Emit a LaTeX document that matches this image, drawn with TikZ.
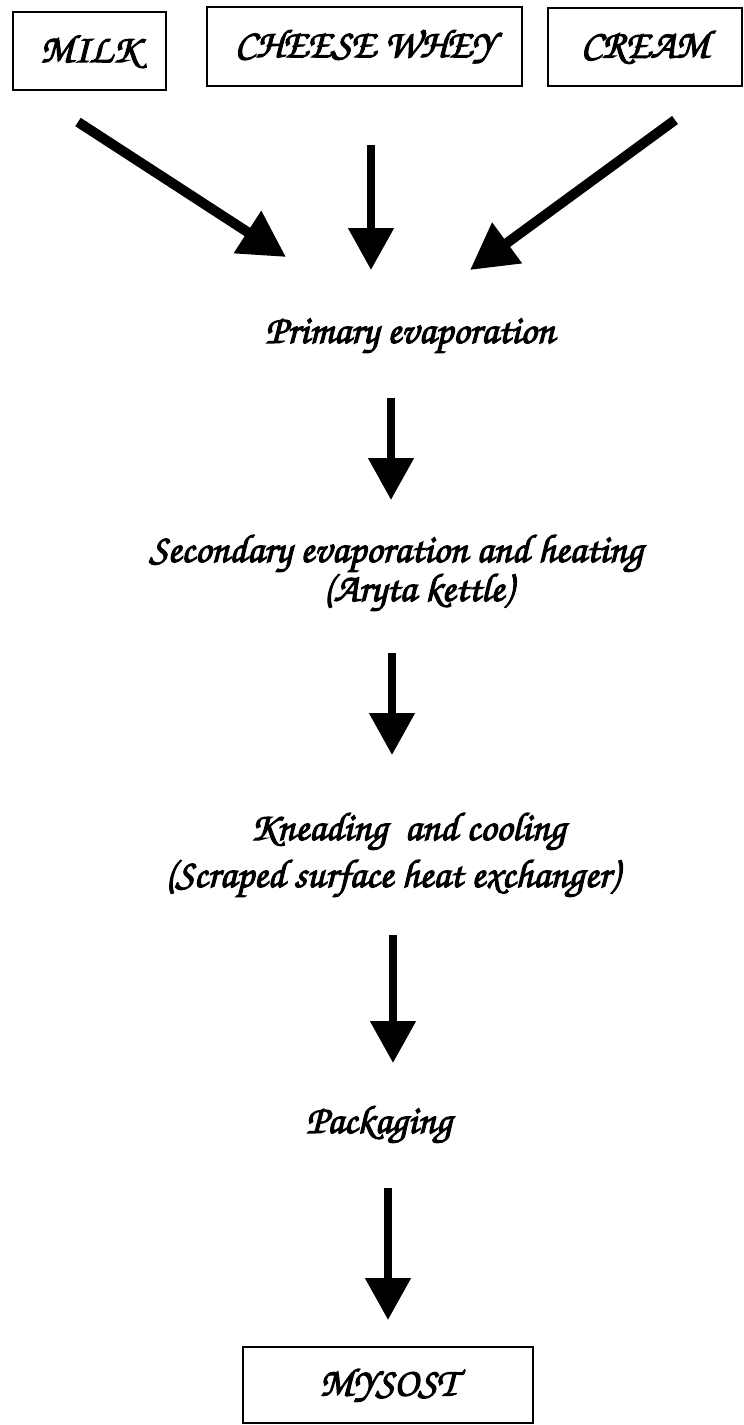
\documentclass[tikz,border=0pt]{standalone}
\usepackage[T1,TU]{fontenc}
\usetikzlibrary{arrows.meta}
\newcommand\chanc{\fontencoding{T1}\fontfamily{pzc}\fontseries{mb}\fontshape{it}\fontsize{40}{46}\selectfont\special{pdf:literal direct 2 Tr 1.1 w}}
\tikzset{
  box/.style={draw,line width=1.6pt,inner sep=0pt,font=\chanc},
  lbl/.style={anchor=base,inner sep=0pt,font=\chanc},
  arr/.style={line width=8pt,-{Triangle[length=42pt,width=44pt]}},
  darr/.style={line width=10pt,-{Triangle[length=46pt,width=48pt]}}
}
\begin{document}
\begin{tikzpicture}[x=1pt,y=-1pt]
\useasboundingbox (0,0) rectangle (744,1425);
% source boxes
\node[box,minimum width=153pt,minimum height=78pt] (milk) at (89.5,51) {MILK};
\node[box,minimum width=315pt,minimum height=79pt] (whey) at (364.5,46.5) {CHEESE WHEY};
\node[box,minimum width=194pt,minimum height=78pt] (cream) at (645,47) {CREAM};
% process steps
\node[lbl] (primary) at (410,343) {Primary evaporation};
\node[lbl] (second) at (396,562) {Secondary evaporation and heating};
\node[lbl] (aryta) at (418,601) {(Aryta kettle)};
\node[lbl] (knead) at (408,840) {Kneading\ \ and cooling};
\node[lbl] (scraped) at (392,887) {(Scraped surface heat exchanger)};
\node[lbl] (pack) at (379,1133) {Packaging};
\node[box,minimum width=290pt,minimum height=76pt] (mysost) at (388,1385) {MYSOST};
% connector ends
\coordinate (m1) at (78,122);   \coordinate (m2) at (286,257);
\coordinate (w1) at (371,145);  \coordinate (w2) at (371,270);
\coordinate (c1) at (675,120);  \coordinate (c2) at (470,270);
\coordinate (p1) at (391,398);  \coordinate (p2) at (391,500);
\coordinate (s1) at (392,653);  \coordinate (s2) at (392,755);
\coordinate (k1) at (393,935);  \coordinate (k2) at (393,1063);
\coordinate (g1) at (388,1188); \coordinate (g2) at (388,1320);
% connectors
\draw[darr] (m1) -- (m2);
\draw[arr] (w1) -- (w2);
\draw[darr] (c1) -- (c2);
\draw[arr] (p1) -- (p2);
\draw[arr] (s1) -- (s2);
\draw[arr] (k1) -- (k2);
\draw[arr] (g1) -- (g2);
\end{tikzpicture}
\end{document}
